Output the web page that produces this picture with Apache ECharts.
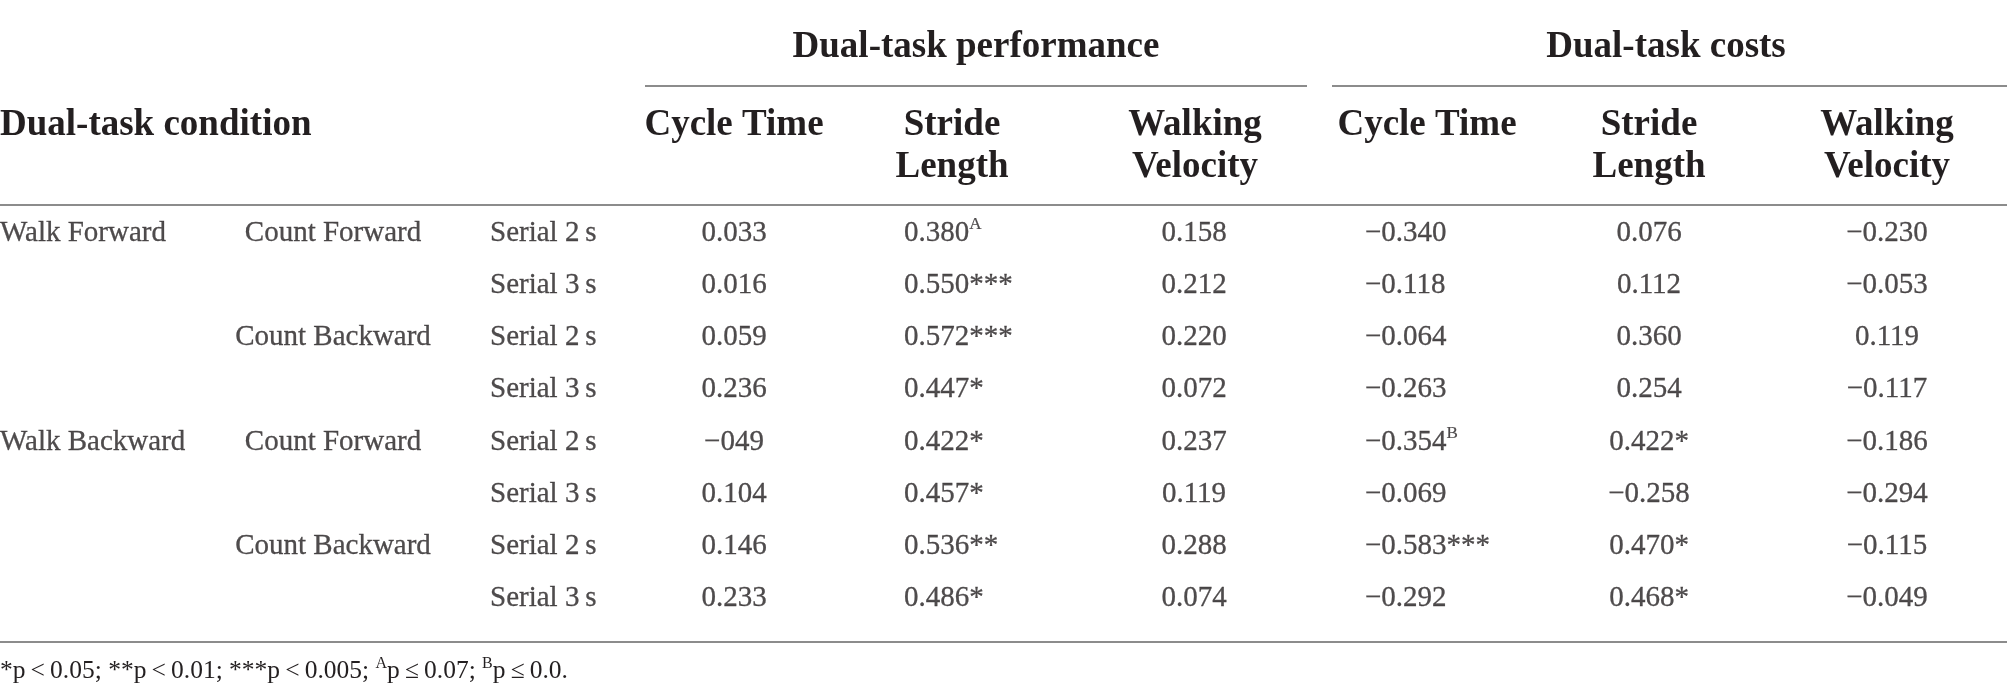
<!DOCTYPE html>
<html>
<head>
<meta charset="utf-8">
<script src="https://cdn.jsdelivr.net/npm/echarts@6/dist/echarts.min.js"></script>
<style>
html,body{margin:0;padding:0;background:#fff;}
#chart{width:2007px;height:700px;}
</style>
</head>
<body>
<div id="chart"></div>
<script>
// ---------- data ----------
const walkTasks = ['Walk Forward', 'Walk Backward'];
const countTasks = ['Count Forward', 'Count Backward'];
const serialTasks = ['Serial 2\u2009s', 'Serial 3\u2009s'];

const groupHeaders = ['Dual-task performance', 'Dual-task costs'];
const measureHeaders = ['Cycle Time', 'Stride\nLength', 'Walking\nVelocity'];
const conditionHeader = 'Dual-task condition';

const perfCycleTime      = ['0.033', '0.016', '0.059', '0.236', '\u2212049', '0.104', '0.146', '0.233'];
const perfStrideLength   = ['0.380', '0.550', '0.572', '0.447', '0.422', '0.457', '0.536', '0.486'];
const perfStrideSig      = ['A', '***', '***', '*', '*', '*', '**', '*'];
const perfWalkVelocity   = ['0.158', '0.212', '0.220', '0.072', '0.237', '0.119', '0.288', '0.074'];

const costCycleTime      = ['\u22120.340', '\u22120.118', '\u22120.064', '\u22120.263', '\u22120.354', '\u22120.069', '\u22120.583', '\u22120.292'];
const costCycleSig       = ['', '', '', '', 'B', '', '***', ''];
const costStrideLength   = ['0.076', '0.112', '0.360', '0.254', '0.422', '\u22120.258', '0.470', '0.468'];
const costStrideSig      = ['', '', '', '', '*', '', '*', '*'];
const costWalkVelocity   = ['\u22120.230', '\u22120.053', '0.119', '\u22120.117', '\u22120.186', '\u22120.294', '\u22120.115', '\u22120.049'];

const footnote = '{t|*p\u2009<\u20090.05; **p\u2009<\u20090.01; ***p\u2009<\u20090.005; }{s|A}{t|p\u2009\u2264\u20090.07; }{s|B}{t|p\u2009\u2264\u20090.0.}';

// ---------- layout / style ----------
const FONT = "'Liberation Serif', 'Times New Roman', serif";
const INK = '#231f20';
const RULE = '#8c8c8c';
const W = 2007;
const colX = { walk: 0, count: 333, serial: 490, pCT: 734, pSL: 904, pWV: 1194, cCT: 1365, cSL: 1649, cWV: 1887 };

const rowCats = [];
for (let r = 0; r < perfCycleTime.length; r++) rowCats.push('r' + r);

const rich = {
  n: { fontFamily: FONT, fontSize: 29, color: INK, lineHeight: 34, textBorderColor: INK, textBorderWidth: 0.3 },
  s: { fontFamily: FONT, fontSize: 17, color: INK, lineHeight: 20, verticalAlign: 'top', textBorderColor: INK, textBorderWidth: 0.2 }
};

function textSeries(name, x, texts, sigs, align) {
  const data = [];
  texts.forEach((t, i) => {
    if (t === '') return;
    data.push({ value: [x, rowCats[i]], txt: t, sig: sigs ? sigs[i] : '' });
  });
  return {
    name: name,
    type: 'scatter',
    symbolSize: 1,
    itemStyle: { color: 'rgba(0,0,0,0)' },
    silent: true,
    data: data,
    label: {
      show: true,
      position: 'inside',
      align: align,
      verticalAlign: 'middle',
      formatter: p => {
        const d = p.data;
        if (!d.sig) return '{n|' + d.txt + '}';
        if (d.sig.indexOf('*') >= 0) return '{n|' + d.txt + d.sig + '}';
        return '{n|' + d.txt + '}{s|' + d.sig + '}';
      },
      rich: rich
    }
  };
}

// row label columns built from the task hierarchy
const walkCol = [], countCol = [], serialCol = [];
walkTasks.forEach(w => countTasks.forEach((c, ci) => serialTasks.forEach((s, si) => {
  walkCol.push(ci === 0 && si === 0 ? w : '');
  countCol.push(si === 0 ? c : '');
  serialCol.push(s);
})));

const series = [
  textSeries('walk', colX.walk, walkCol, null, 'left'),
  textSeries('count', colX.count, countCol, null, 'center'),
  textSeries('serial', colX.serial, serialCol, null, 'left'),
  textSeries('pCT', colX.pCT, perfCycleTime, null, 'center'),
  textSeries('pSL', colX.pSL, perfStrideLength, perfStrideSig, 'left'),
  textSeries('pWV', colX.pWV, perfWalkVelocity, null, 'center'),
  textSeries('cCT', colX.cCT, costCycleTime, costCycleSig, 'left'),
  textSeries('cSL', colX.cSL, costStrideLength, costStrideSig, 'center'),
  textSeries('cWV', colX.cWV, costWalkVelocity, null, 'center')
];

const HFONT = 'bold 37px ' + FONT;
function hText(x, y, text, align) {
  return {
    type: 'text', x: x, y: y, silent: true,
    style: { text: text, fill: INK, font: HFONT, align: align || 'center', verticalAlign: 'middle', lineHeight: 42 }
  };
}
function rule(x1, x2, y) {
  return { type: 'line', silent: true, shape: { x1: x1, y1: y, x2: x2, y2: y }, style: { stroke: RULE, lineWidth: 2 } };
}

const graphics = [
  hText(976, 47, groupHeaders[0]),
  hText(1666, 47, groupHeaders[1]),
  rule(645, 1307, 86),
  rule(1332, W, 86),
  hText(0, 125, conditionHeader, 'left'),
  rule(0, W, 205),
  rule(0, W, 642)
];
const hdrX = [[734, 952, 1195], [1427, 1649, 1887]];
hdrX.forEach(xs => xs.forEach((x, k) => {
  graphics.push({
    type: 'text', x: x, y: 104, silent: true,
    style: { text: measureHeaders[k], fill: INK, font: HFONT, align: 'center', verticalAlign: 'top', lineHeight: 42 }
  });
}));
graphics.push({
  type: 'text', x: 0, y: 671, silent: true,
  style: {
    text: footnote, align: 'left', verticalAlign: 'middle',
    rich: {
      t: { fontFamily: FONT, fontSize: 25.5, fill: INK, lineHeight: 30 },
      s: { fontFamily: FONT, fontSize: 16, fill: INK, lineHeight: 18, verticalAlign: 'top' }
    }
  }
});

const chart = echarts.init(document.getElementById('chart'), null, { renderer: 'canvas' });
chart.setOption({
  backgroundColor: '#ffffff',
  animation: false,
  grid: { left: 0, right: 0, top: 207, height: 418, containLabel: false },
  xAxis: { type: 'value', min: 0, max: W, show: false },
  yAxis: { type: 'category', data: rowCats, inverse: true, show: false, boundaryGap: true },
  tooltip: { show: false },
  series: series,
  graphic: graphics
});
</script>
</body>
</html>
